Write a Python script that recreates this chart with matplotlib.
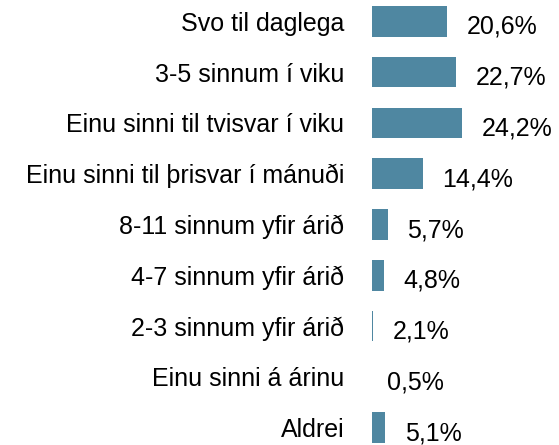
import matplotlib.pyplot as plt

plt.rcParams['font.family'] = ['Liberation Sans', 'DejaVu Sans']

# ----------------------- data -----------------------
categories = ["Svo til daglega", "3-5 sinnum í viku", "Einu sinni til tvisvar í viku",
              "Einu sinni til þrisvar í mánuði", "8-11 sinnum yfir árið",
              "4-7 sinnum yfir árið", "2-3 sinnum yfir árið", "Einu sinni á árinu", "Aldrei"]
values = [20.6, 22.7, 24.2, 14.4, 5.7, 4.8, 2.1, 0.5, 5.1]
labels = ["20,6%", "22,7%", "24,2%", "14,4%", "5,7%", "4,8%", "2,1%", "0,5%", "5,1%"]

# ----------------------- chart -----------------------
W, H = 559, 445
fig = plt.figure(figsize=(W / 100, H / 100), dpi=100)
ax = fig.add_axes([372 / W, 0, 1 - 372 / W, 1])

pos = list(range(len(categories)))
ax.barh(pos, values, height=0.6, color='#4f87a1')

ax.set_xlim(1.75, 48.5)
ax.set_ylim(8.34, -0.42)

for p, v, t in zip(pos, values, labels):
    ax.annotate(t, (v, p), xytext=(19.5 * 0.72, -4), textcoords='offset points',
                ha='left', va='center', fontsize=18, color='black',
                annotation_clip=False)

ax.set_yticks(pos)
ax.set_yticklabels(categories, fontsize=18)
ax.tick_params(axis='y', length=0, pad=20)
ax.set_xticks([])
for s in ax.spines.values():
    s.set_visible(False)

fig.savefig('out.png', dpi=100)
